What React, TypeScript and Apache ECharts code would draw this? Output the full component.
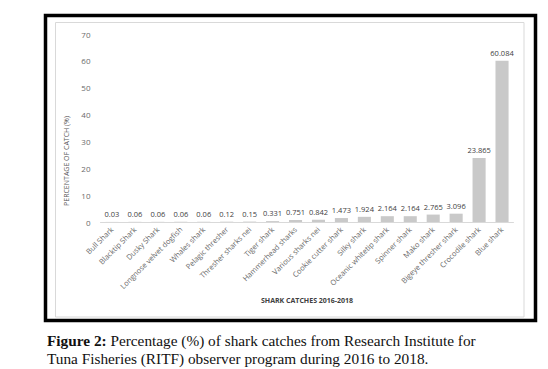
import React, { useEffect, useRef } from "react";
import * as echarts from "echarts";

const categories = [
  "Bull Shark",
  "Blacktip Shark",
  "Dusky Shark",
  "Longnose velvet dogfish",
  "Whales shark",
  "Pelagic thresher",
  "Thresher sharks nei",
  "Tiger shark",
  "Hammerhead sharks",
  "Various sharks nei",
  "Cookie cutter shark",
  "Silky shark",
  "Oceanic whitetip shark",
  "Spinner shark",
  "Mako shark",
  "Bigeye thresher shark",
  "Crocodile shark",
  "Blue shark",
];
const values = [
  0.03, 0.06, 0.06, 0.06, 0.06, 0.12, 0.15, 0.331, 0.751, 0.842, 1.473, 1.924,
  2.164, 2.164, 2.765, 3.096, 23.865, 60.084,
];
const yTicks = [0, 10, 20, 30, 40, 50, 60, 70];
const yAxisTitle = "PERCENTAGE OF CATCH (%)";
const xAxisTitle = "SHARK CATCHES 2016-2018";
const captionBold = "Figure 2:";
const captionLine1 = " Percentage (%) of shark catches from Research Institute for";
const captionLine2 = "Tuna Fisheries (RITF) observer program during 2016 to 2018.";

export default function App() {
  const ref = useRef<HTMLDivElement>(null);
  useEffect(() => {
    if (!ref.current) return;
    const chart = echarts.init(ref.current, null, { renderer: "svg" });
    chart.setOption({
      animation: false,
      backgroundColor: "#ffffff",
      grid: { left: 100.5, right: 34.5, top: 34, bottom: 147, containLabel: false },
      xAxis: {
        type: "category",
        data: categories,
        axisLine: { lineStyle: { color: "#d9d9d9", width: 1 } },
        axisTick: { show: false },
        axisLabel: {
          rotate: 45,
          interval: 0,
          fontSize: 7.5,
          color: "#6a6a6a",
          fontFamily: "Open Sans",
          margin: 6,
        },
      },
      yAxis: {
        type: "value",
        min: yTicks[0],
        max: yTicks[yTicks.length - 1],
        interval: 10,
        splitLine: { show: false },
        axisLine: { show: false },
        axisTick: { show: false },
        axisLabel: {
          fontSize: 8,
          color: "#6a6a6a",
          fontFamily: "Open Sans",
          margin: 10,
        },
      },
      series: [
        {
          type: "bar",
          data: values,
          barWidth: "57%",
          itemStyle: { color: "#c9c9c9" },
          label: {
            show: true,
            position: "top",
            distance: 4,
            fontSize: 7.5,
            color: "#404040",
            fontFamily: "Open Sans",
            formatter: (p: any) => String(p.value),
          },
        },
      ],
      graphic: [
        {
          type: "rect",
          shape: { x: 45.5, y: 15.5, width: 490, height: 305 },
          style: { fill: "none", stroke: "#000000", lineWidth: 3.5 },
          z: 1,
        },
        {
          type: "rect",
          shape: { x: 55.5, y: 22.5, width: 468.5, height: 294.5 },
          style: { fill: "none", stroke: "#d9d9d9", lineWidth: 1 },
          z: 1,
        },
        {
          type: "text",
          x: 66,
          y: 161,
          rotation: Math.PI / 2,
          style: {
            text: yAxisTitle,
            fontSize: 7,
            fill: "#595959",
            fontFamily: "Open Sans",
            align: "center",
            verticalAlign: "middle",
          },
        },
        {
          type: "text",
          x: 307,
          y: 300,
          style: {
            text: xAxisTitle,
            fontSize: 7,
            fontWeight: "bold",
            fill: "#404040",
            fontFamily: "Open Sans",
            align: "center",
            verticalAlign: "middle",
          },
        },
        {
          type: "text",
          x: 47,
          y: 340,
          style: {
            text: "{b|" + captionBold + "}{n|" + captionLine1 + "}",
            verticalAlign: "middle",
            rich: {
              b: { fontSize: 15.3, fontWeight: "bold", fontFamily: "Liberation Serif", fill: "#111111" },
              n: { fontSize: 15.3, fontFamily: "Liberation Serif", fill: "#111111" },
            },
          },
        },
        {
          type: "text",
          x: 47,
          y: 358.5,
          style: {
            text: captionLine2,
            fontSize: 15.3,
            fontFamily: "Liberation Serif",
            fill: "#111111",
            verticalAlign: "middle",
          },
        },
      ],
    });
    return () => chart.dispose();
  }, []);
  return (
    <div
      ref={ref}
      style={{ position: "absolute", left: 0, top: 0, width: 548, height: 369 }}
    />
  );
}
